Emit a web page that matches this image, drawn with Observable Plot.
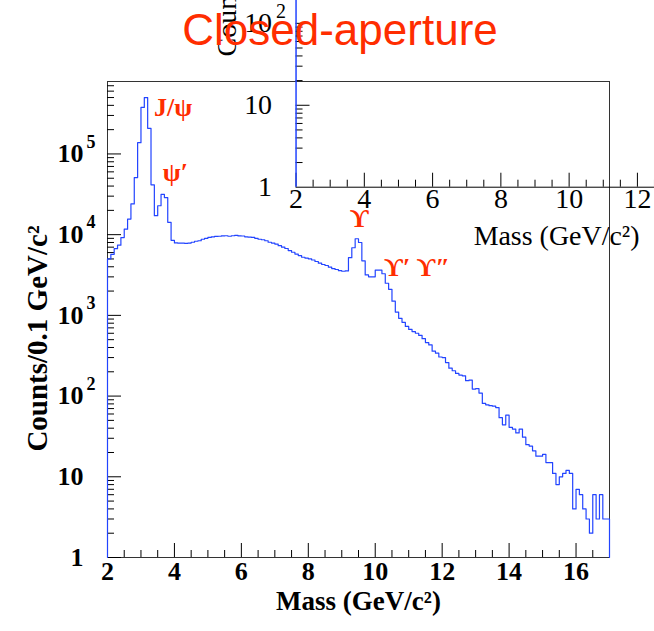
<!DOCTYPE html>
<html><head><meta charset="utf-8">
<script src="https://cdn.jsdelivr.net/npm/d3@7"></script>
<script src="https://cdn.jsdelivr.net/npm/@observablehq/plot@0.6"></script>
<style>
html,body{margin:0;padding:0;background:#fff;overflow:hidden;}
#wrap{position:relative;width:654px;height:631px;overflow:hidden;}
#main,#inset{position:absolute;left:0;top:0;}
#title{position:absolute;left:13px;top:8px;width:654px;text-align:center;font-family:"Liberation Sans",Arial,sans-serif;font-size:44px;line-height:44px;color:#ff2d00;white-space:nowrap;}
</style></head>
<body><div id="wrap"><div id="main"></div><div id="inset"></div><div id="title">Closed-aperture</div></div>
<script>
// ---- data: counts per 0.1 GeV/c^2 bin, bins start at 2.0 GeV ----
const massMin = 2, massMax = 17, binWidth = 0.1;
const counts2to5 = [5000,5700,6700,7400,9200,11700,15600,24000,51000,138000,
  377000,500000,208000,41500,17200,22800,31500,28800,14200,8500,
  7900,7850,7850,7800,7870,8050,8280,8400,8770,9000];
const counts5to8 = [9230,9400,9500,9560,9640,9690,9560,9690,9800,9640,
  9620,9400,9300,9230,9000,8770,8650,8400,8050,7870,
  7650,7300,7000,6740,6350,6050,5750,5500,5250,5130];
const counts8to11 = [5020,4850,4650,4430,4270,4150,3950,3800,3700,3580,
  3520,3550,5180,6880,8900,8000,4740,3170,3000,3000,
  3640,3640,3280,2500,2100,1500,1100,920,820,730];
const counts11to14 = [670,630,600,565,515,460,430,360,340,305,
  300,260,222,206,191,182,178,155,158,122,
  124,109,81,78,76,75,72,54,44,58];
const counts14to17 = [41,39,35,39,31,25,24,21,18,18,
  19,15,15,11,8,10,11,12,11,4,
  7,6,4,3,2,6,3,6,3,3];
const peakLabels = [
  {label: "J/\u03c8", m: 3.96, c: 3.7e5},
  {label: "\u03c8\u2032", m: 4.03, c: 5.8e4},
  {label: "\u03d2", m: 9.53, c: 1.57e4},
  {label: "\u03d2\u2032 \u03d2\u2033", m: 11.25, c: 3.9e3}
];
const xMajorTicks = [2,4,6,8,10,12,14,16];
const yMajorTicks = [1,10,100,1000,10000,100000];
const insetXTicks = [2,4,6,8,10,12];
const insetYTicks = [1,10,100];
const xTitle = "Mass (GeV/c\u00b2)";
const yTitle = "Counts/0.1 GeV/c\u00b2";
const titleText = "Closed-aperture";

// ---- build ----
const red = "#ff2d00", blue = "#2244ff";
const serif = "'Liberation Serif','Times New Roman',serif";
const counts = [...counts2to5, ...counts5to8, ...counts8to11, ...counts11to14, ...counts14to17];
const bins = counts.map((c, i) => ({m: massMin + i * binWidth, c}));
const path = [{m: massMin, c: 1}, ...bins, {m: massMax, c: counts[counts.length - 1]}, {m: massMax, c: 1}];

function minorLog(maxV) {
  const out = [];
  for (let k = 0; k < 7; k++) for (let j = 2; j <= 9; j++) { const v = j * Math.pow(10, k); if (v <= maxV) out.push(v); }
  return out;
}
function halfSteps(a, b) { const out = []; for (let v = a; v <= b + 1e-9; v += 0.5) if (Math.abs(v % 2) > 1e-9) out.push(v); return out; }
function expOf(d) { return String(Math.round(Math.log10(d))); }

const W = 654, H = 631, mL = 107, mR = 45, mT = 81, mB = 74;
const fW = W - mL - mR, fH = H - mT - mB;
const yMax = 7.9e5;

const main = Plot.plot({
  width: W, height: H, marginLeft: mL, marginRight: mR, marginTop: mT, marginBottom: mB,
  style: {fontFamily: serif, background: "transparent", overflow: "visible", color: "black"},
  x: {domain: [massMin, massMax], axis: null},
  y: {type: "log", domain: [1, yMax], axis: null},
  marks: [
    Plot.frame({stroke: "#333"}),
    Plot.tickY(yMajorTicks, {y: d => d, insetRight: fW - 14, stroke: "black"}),
    Plot.tickY(minorLog(yMax), {y: d => d, insetRight: fW - 7, stroke: "black"}),
    Plot.tickX(xMajorTicks, {x: d => d, insetTop: fH - 14, stroke: "black"}),
    Plot.tickX(halfSteps(massMin, massMax), {x: d => d, insetTop: fH - 7, stroke: "black"}),
    Plot.line(path, {x: "m", y: "c", curve: "step-after", stroke: blue, strokeWidth: 1.2}),
    Plot.text(xMajorTicks, {x: d => d, frameAnchor: "bottom", dy: 22, text: d => String(d), fontSize: 26, fontWeight: "bold"}),
    Plot.text(yMajorTicks, {y: d => d, frameAnchor: "left", dx: -24, textAnchor: "end", text: d => d === 1 ? "1" : "10", fontSize: 26, fontWeight: "bold"}),
    Plot.text(yMajorTicks.filter(d => d >= 100), {y: d => d, frameAnchor: "left", dx: -21, dy: -12, textAnchor: "start", text: expOf, fontSize: 18, fontWeight: "bold"}),
    Plot.text([xTitle], {frameAnchor: "bottom", dy: 52, text: d => d, fontSize: 27, fontWeight: "bold"}),
    Plot.text([yTitle], {frameAnchor: "left", dx: -70, dy: 19, rotate: -90, textAnchor: "middle", text: d => d, fontSize: 29, fontWeight: "bold"}),
    Plot.text(peakLabels, {x: "m", y: "c", text: "label", fill: red, fontSize: 26, fontWeight: "bold"})
  ]
});
document.getElementById("main").appendChild(main);

// ---- inset pad ----
const iW = 655, iL = 296, iFH = 187, iB = 80;
const iFW = iW - iL;
const iYMax = 190;
const inset = Plot.plot({
  width: iW, height: iFH + iB, marginLeft: iL, marginRight: 0, marginTop: 0, marginBottom: iB,
  style: {fontFamily: serif, background: "transparent", overflow: "visible", color: "black"},
  x: {domain: [2, 12.5], axis: null},
  y: {type: "log", domain: [1, iYMax], axis: null},
  marks: [
    Plot.ruleY([1], {stroke: "black"}),
    Plot.tickY([10, 100], {y: d => d, insetRight: iFW - 14, stroke: "black"}),
    Plot.tickY(minorLog(iYMax), {y: d => d, insetRight: iFW - 7, stroke: "black"}),
    Plot.tickX(insetXTicks, {x: d => d, insetTop: iFH - 14, stroke: "black"}),
    Plot.tickX(halfSteps(2, 12.5), {x: d => d, insetTop: iFH - 7, stroke: "black"}),
    Plot.ruleX([2], {stroke: blue, strokeWidth: 1.5}),
    Plot.text(insetXTicks, {x: d => d, frameAnchor: "bottom", dy: 21, text: d => String(d), fontSize: 28}),
    Plot.text(insetYTicks, {y: d => d, frameAnchor: "left", dx: -24, textAnchor: "end", text: d => d === 1 ? "1" : "10", fontSize: 28}),
    Plot.text(insetYTicks.filter(d => d >= 100), {y: d => d, frameAnchor: "left", dx: -20, dy: -12, textAnchor: "start", text: expOf, fontSize: 20}),
    Plot.text([xTitle], {frameAnchor: "bottom-right", dx: -15, dy: 58, textAnchor: "end", text: d => d, fontSize: 28}),
    Plot.text([yTitle], {frameAnchor: "top-left", dx: -80, dy: 56, textAnchor: "start", rotate: -90, text: d => d, fontSize: 28})
  ]
});
document.getElementById("inset").appendChild(inset);
document.getElementById("title").textContent = titleText;
</script>
</body></html>
